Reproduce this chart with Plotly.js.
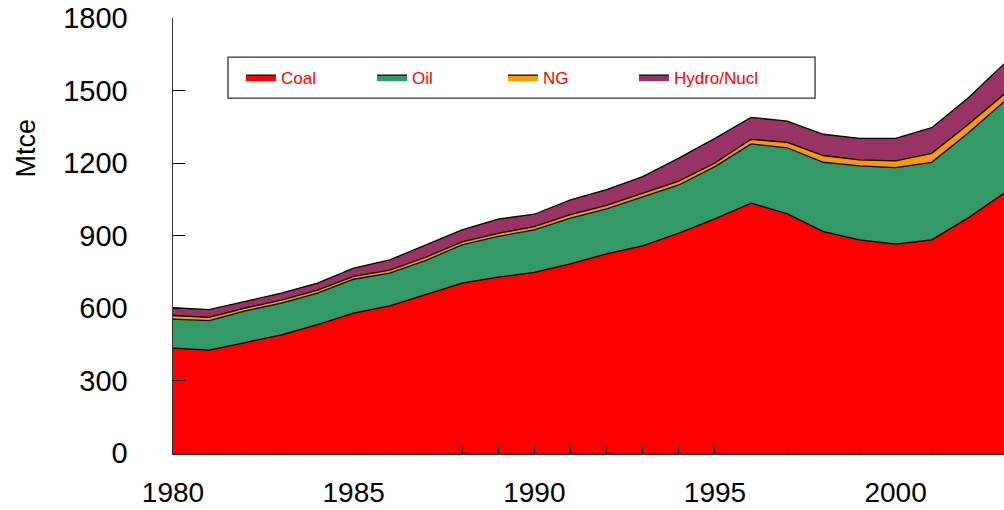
<!DOCTYPE html>
<html>
<head>
<meta charset="utf-8">
<script src="https://cdn.plot.ly/plotly-3.0.1.min.js"></script>
<style>html,body{margin:0;padding:0;background:#fff;}#chart{width:1004px;height:510px;}</style>
</head>
<body>
<div id="chart"></div>
<script>
const years = [1980,1981,1982,1983,1984,1985,1986,1987,1988,1989,1990,1991,1992,1993,1994,1995,1996,1997,1998,1999,2000,2001,2002,2003];
const coal  = [434,426,457,489,531,579,609,655,703,728,747,783,824,857,910,969,1034,990,916,882,864,882,972,1075];
const oil   = [120,122,131,131,131,140,135,142,158,168,176,189,186,202,199,216,245,273,287,306,317,321,351,379];
const ng    = [15,13,12,13,12,12,13,13,13,13,14,14,15,16,16,15,19,22,28,25,28,37,35,30];
const hydro = [32,32,27,29,29,34,42,51,49,59,51,61,65,69,95,102,91,88,88,89,93,106,110,126];
const seriesNames = ['Coal','Oil','NG','Hydro/Nucl'];
const yTicks = [0,300,600,900,1200,1500,1800];
const xTickLabels = years.map(y => (y % 5 === 0 ? String(y) : ''));
const yTitle = 'Mtce';

const colors = ['#FF0000','#339966','#FF9900','#993366'];
const data = [coal, oil, ng, hydro].map((vals, i) => ({
  type: 'scatter',
  mode: 'lines',
  x: years,
  y: vals,
  name: seriesNames[i],
  stackgroup: 'one',
  line: {color: '#000000', width: 1.3},
  fillcolor: colors[i],
  hoverinfo: 'x+y+name'
}));

const layout = {
  width: 1004,
  height: 510,
  margin: {l: 173, r: 0, t: 18, b: 57},
  paper_bgcolor: '#ffffff',
  plot_bgcolor: '#ffffff',
  font: {family: 'Liberation Sans, Arial, sans-serif', color: '#000000'},
  showlegend: true,
  legend: {
    orientation: 'h',
    x: 0.0818, xanchor: 'left',
    y: 0.863, yanchor: 'middle',
    borderwidth: 0,
    bgcolor: 'rgba(0,0,0,0)',
    font: {size: 17, color: '#FF0000'},
    entrywidth: 86,
    traceorder: 'normal'
  },
  shapes: [{
    type: 'rect', xref: 'paper', yref: 'paper',
    x0: 0.0662, x1: 0.7726, y0: 0.816, y1: 0.910,
    line: {color: '#333333', width: 1.3},
    fillcolor: 'rgba(0,0,0,0)',
    layer: 'above'
  }],
  annotations: [{
    text: yTitle, xref: 'paper', yref: 'paper',
    x: -0.178, y: 0.70, xanchor: 'center', yanchor: 'middle',
    textangle: -90, showarrow: false,
    font: {size: 27, color: '#000000'}
  }],
  xaxis: {
    range: [1980, 2003],
    tickmode: 'array',
    tickvals: years,
    ticktext: xTickLabels,
    ticks: 'inside',
    ticklen: 8,
    tickcolor: '#000000',
    tickwidth: 1,
    showline: true,
    linecolor: '#333333',
    linewidth: 1.5,
    showgrid: false,
    zeroline: false,
    tickfont: {size: 28, color: '#000000'},
    ticklabelstandoff: 14,
    automargin: false
  },
  yaxis: {
    range: [0, 1800],
    tickmode: 'array',
    tickvals: yTicks,
    ticks: 'inside',
    ticklen: 12,
    tickcolor: '#000000',
    tickwidth: 1,
    showline: true,
    linecolor: '#333333',
    linewidth: 1.5,
    showgrid: false,
    zeroline: false,
    tickfont: {size: 29, color: '#000000'},
    ticklabelstandoff: 38,
    automargin: false
  }
};

Plotly.newPlot('chart', data, layout, {displayModeBar: false, staticPlot: true});
</script>
</body>
</html>
